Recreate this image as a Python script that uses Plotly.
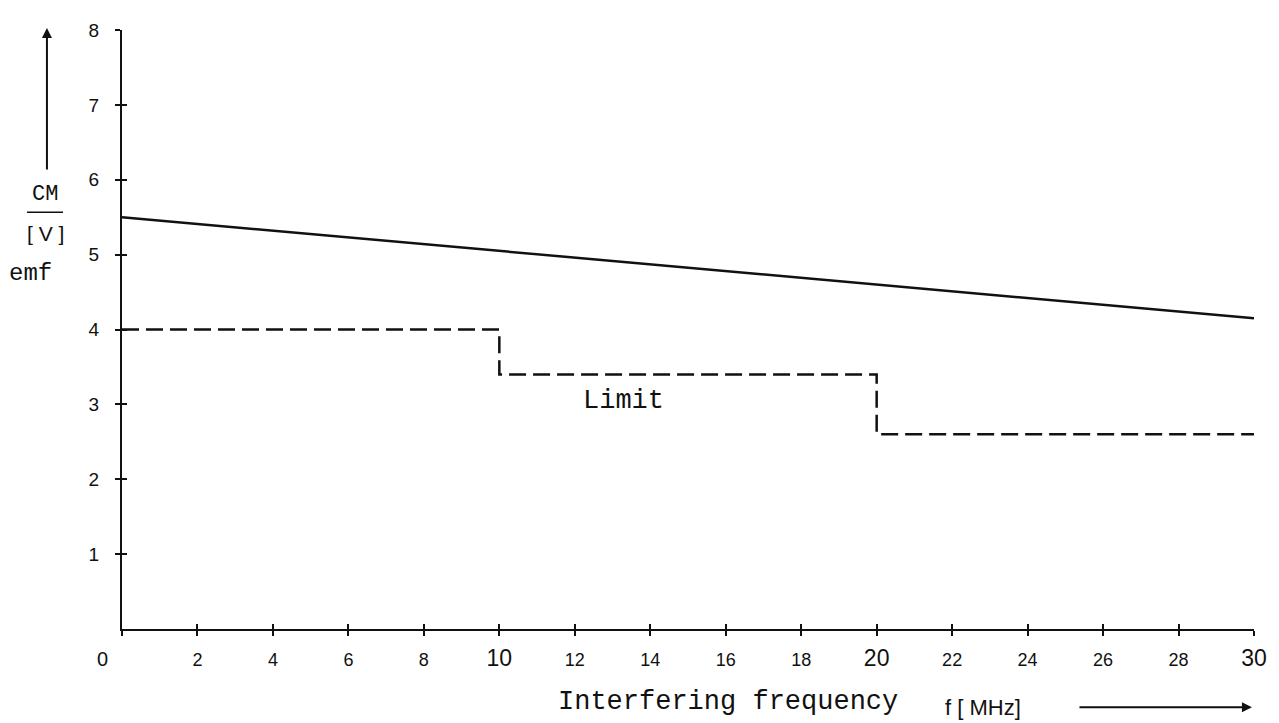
import plotly.graph_objects as go

# ---- data ----
emf_freq = [0, 30]
emf_values = [5.5, 4.15]

limit_freq = [0, 10, 10, 20, 20, 30]
limit_values = [4.0, 4.0, 3.4, 3.4, 2.6, 2.6]

x_tickvals = [0, 2, 4, 6, 8, 10, 12, 14, 16, 18, 20, 22, 24, 26, 28, 30]
x_big = {10, 20, 30}
y_tickvals = [1, 2, 3, 4, 5, 6, 7, 8]

x_ticktext = []
for v in x_tickvals:
    if v in x_big:
        x_ticktext.append("<span style='font-size:23px'>%d</span>" % v)
    elif v == 0:
        x_ticktext.append("<span style='font-size:20px'>0" + "&nbsp;" * 7 + "</span>")
    else:
        x_ticktext.append(str(v))
y_ticktext = [str(v) for v in y_tickvals]

INK = "#111111"
MONO = "Courier New, Liberation Mono, monospace"
SANS = "Liberation Sans, Arial, sans-serif"

fig = go.Figure()
fig.add_trace(go.Scatter(x=emf_freq, y=emf_values, mode="lines",
                         line=dict(color=INK, width=2.5), showlegend=False,
                         hoverinfo="skip"))
fig.add_trace(go.Scatter(x=limit_freq, y=limit_values, mode="lines",
                         line=dict(color=INK, width=2.5, dash="17px,7px"),
                         showlegend=False, hoverinfo="skip"))
# invisible trace to activate overlay axes (for crossing tick marks)
fig.add_trace(go.Scatter(x=[0], y=[0], xaxis="x2", yaxis="y2", mode="markers",
                         marker=dict(opacity=0), showlegend=False, hoverinfo="skip"))

fig.update_layout(
    width=1271, height=715,
    margin=dict(l=114, r=25, t=16, b=94),
    paper_bgcolor="white", plot_bgcolor="white",
    xaxis=dict(range=[0, 30], tickvals=x_tickvals, ticktext=x_ticktext,
               showgrid=False, zeroline=False, showline=True, linecolor=INK,
               linewidth=2, ticks="outside", ticklen=5, tickwidth=2, tickcolor=INK,
               tickfont=dict(family=SANS, size=18, color=INK),
               ticklabelstandoff=8, fixedrange=True),
    yaxis=dict(range=[0, 8], tickvals=y_tickvals, ticktext=y_ticktext,
               showgrid=False, zeroline=False, showline=True, linecolor=INK,
               linewidth=2, ticks="outside", ticklen=5, tickwidth=2, tickcolor=INK,
               tickfont=dict(family=SANS, size=19, color=INK),
               ticklabelstandoff=12, fixedrange=True),
    xaxis2=dict(range=[0, 30], overlaying="x", anchor="y2", side="bottom",
                tickvals=x_tickvals, showticklabels=False, showgrid=False,
                zeroline=False, showline=False, ticks="inside", ticklen=5,
                tickwidth=2, tickcolor=INK, fixedrange=True),
    yaxis2=dict(range=[0, 8], overlaying="y", anchor="x2", side="left",
                tickvals=y_tickvals, showticklabels=False, showgrid=False,
                zeroline=False, showline=False, ticks="inside", ticklen=5,
                tickwidth=2, tickcolor=INK, fixedrange=True),
)

C = dict(xanchor="center", yanchor="middle", showarrow=False)
ann = []
# Limit label
ann.append(dict(x=13.28, y=3.05, xref="x", yref="y", text="Limit",
                font=dict(family=MONO, size=27, color=INK), **C))
# x-axis title
ann.append(dict(x=0.5353, y=-0.1223, xref="paper", yref="paper",
                text="Interfering frequency",
                font=dict(family=MONO, size=27, color=INK), **C))
ann.append(dict(x=0.7606, y=-0.1306, xref="paper", yref="paper",
                text="f [ MHz]",
                font=dict(family=SANS, size=22, color=INK), **C))
# x arrow
ann.append(dict(x=0.9982, y=-0.1306, xref="paper", yref="paper", text="",
                showarrow=True, ax=-174, ay=0, arrowhead=2, arrowsize=1,
                arrowwidth=2, arrowcolor=INK))
# y-axis title pieces
ann.append(dict(x=-0.068, y=0.7256, xref="paper", yref="paper", text="CM",
                font=dict(family=MONO, size=22, color=INK), **C))
ann.append(dict(x=-0.068, y=0.6595, xref="paper", yref="paper", text="[ V ]",
                font=dict(family=SANS, size=21, color=INK), **C))
ann.append(dict(x=-0.0804, y=0.5934, xref="paper", yref="paper", text="emf",
                font=dict(family=MONO, size=24, color=INK), **C))
# y arrow
ann.append(dict(x=-0.0663, y=1.0033, xref="paper", yref="paper", text="",
                showarrow=True, ax=0, ay=143, arrowhead=2, arrowsize=1,
                arrowwidth=2, arrowcolor=INK))
fig.update_layout(annotations=ann)

# underline of CM
fig.add_shape(type="line", xref="paper", yref="paper",
              x0=-0.0839, x1=-0.0521, y0=0.6959, y1=0.6959,
              line=dict(color=INK, width=1.5))

fig.write_html("out.html")
